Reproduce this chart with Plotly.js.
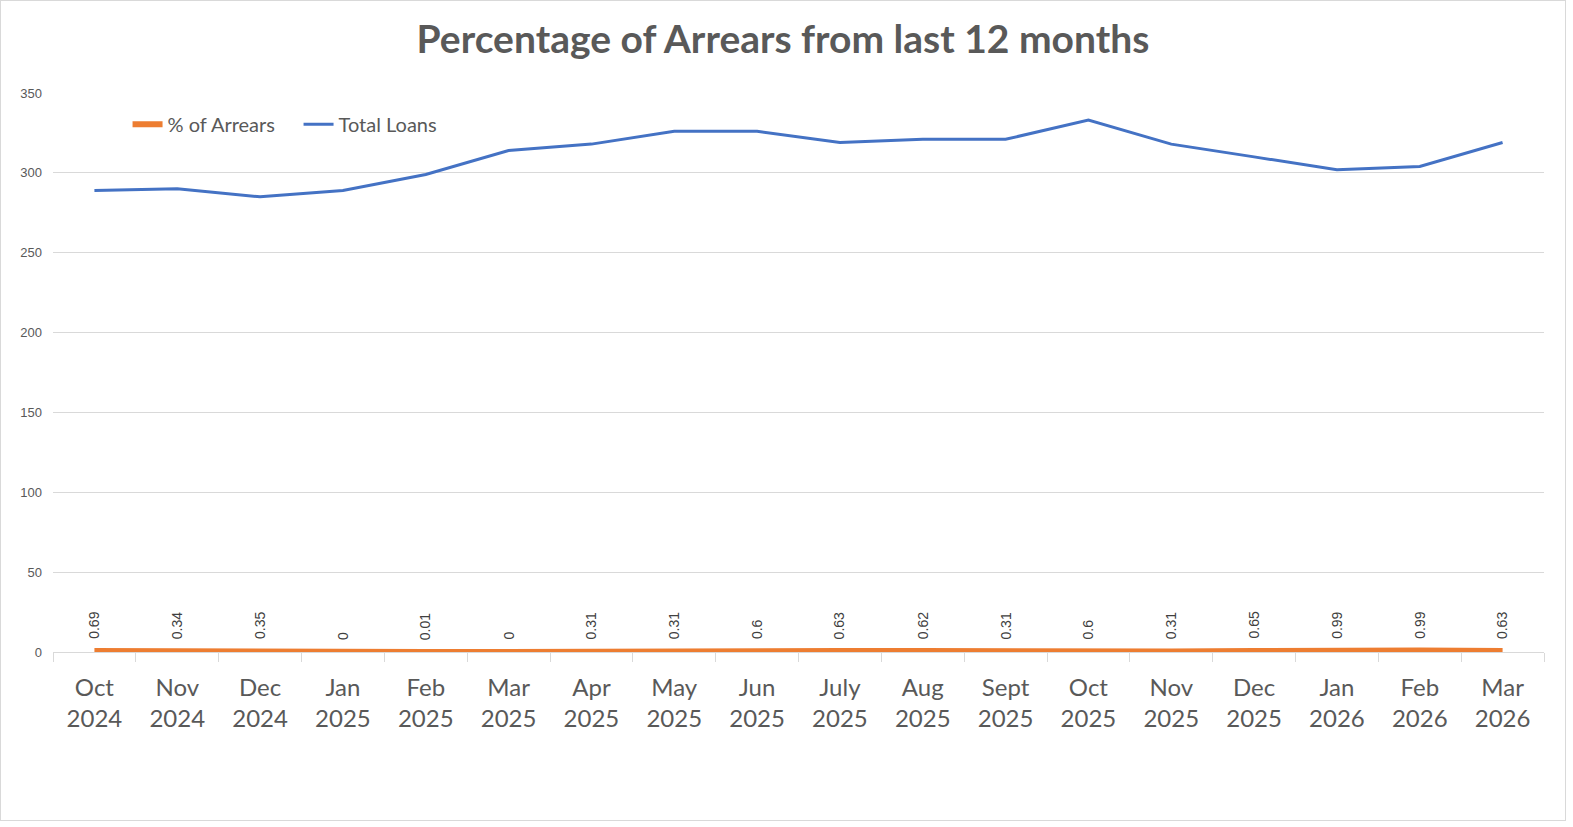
<!DOCTYPE html>
<html>
<head>
<meta charset="utf-8">
<script src="https://cdn.plot.ly/plotly-3.0.1.min.js"></script>
<style>
html,body{margin:0;padding:0;background:#fff;}
#chart{width:1566px;height:821px;border:1px solid #d9d9d9;box-sizing:border-box;}
</style>
</head>
<body>
<div id="chart"></div>
<script>
var categories = ["Oct<br>2024","Nov<br>2024","Dec<br>2024","Jan<br>2025","Feb<br>2025","Mar<br>2025","Apr<br>2025","May<br>2025","Jun<br>2025","July<br>2025","Aug<br>2025","Sept<br>2025","Oct<br>2025","Nov<br>2025","Dec<br>2025","Jan<br>2026","Feb<br>2026","Mar<br>2026"];
var arrearsPct = [0.69,0.34,0.35,0,0.01,0,0.31,0.31,0.6,0.63,0.62,0.31,0.6,0.31,0.65,0.99,0.99,0.63];
var totalLoans = [289,290,285,289,299,314,318,326,326,319,321,321,333,318,310,302,304,319];
var yTicks = [0,50,100,150,200,250,300,350];

var grey = '#595959';
var traces = [
  {x: categories, y: arrearsPct, type: 'scatter', mode: 'lines', name: '% of Arrears',
   line: {color: '#ED7D31', width: 6}},
  {x: categories, y: totalLoans, type: 'scatter', mode: 'lines', name: 'Total Loans',
   line: {color: '#4472C4', width: 3}}
];

var annotations = categories.map(function(c, i){
  return {x: c, y: arrearsPct[i], xref: 'x', yref: 'y', text: String(arrearsPct[i]),
    showarrow: false, textangle: -90, yanchor: 'bottom', xanchor: 'center', yshift: 10,
    font: {family: 'Liberation Sans, Arial, sans-serif', size: 14, color: '#404040'}};
});

var layout = {
  width: 1564, height: 819,
  margin: {l: 52, r: 21, t: 92, b: 168},
  paper_bgcolor: '#fff', plot_bgcolor: '#fff',
  title: {text: '<b>Percentage of Arrears from last 12 months</b>', x: 0.5, xanchor: 'center',
    y: 0.953, yanchor: 'middle', xref: 'container',
    font: {family: 'Lato, sans-serif', size: 39, color: grey}},
  xaxis: {type: 'category', range: [-0.5, categories.length - 0.5], showgrid: false,
    showline: true, linecolor: '#d9d9d9', linewidth: 1,
    ticks: 'outside', tickson: 'boundaries', ticklen: 9, tickcolor: '#d9d9d9',
    ticklabelstandoff: 14,
    tickfont: {family: 'Lato, sans-serif', size: 24, color: grey}, zeroline: false},
  yaxis: {range: [0, 350], tickvals: yTicks, showgrid: true, gridcolor: '#d9d9d9', gridwidth: 1,
    zeroline: false, showline: false, ticks: '', ticklabelstandoff: 10,
    tickfont: {family: 'Liberation Sans, Arial, sans-serif', size: 13, color: grey}},
  legend: {orientation: 'h', x: 0.05, xanchor: 'left', y: 0.944, yanchor: 'middle',
    entrywidth: 126, entrywidthmode: 'pixels',
    bgcolor: 'rgba(0,0,0,0)', font: {family: 'Lato, sans-serif', size: 20, color: grey}},
  annotations: annotations,
  showlegend: true
};

Plotly.newPlot('chart', traces, layout, {displayModeBar: false, staticPlot: true});
</script>
</body>
</html>
